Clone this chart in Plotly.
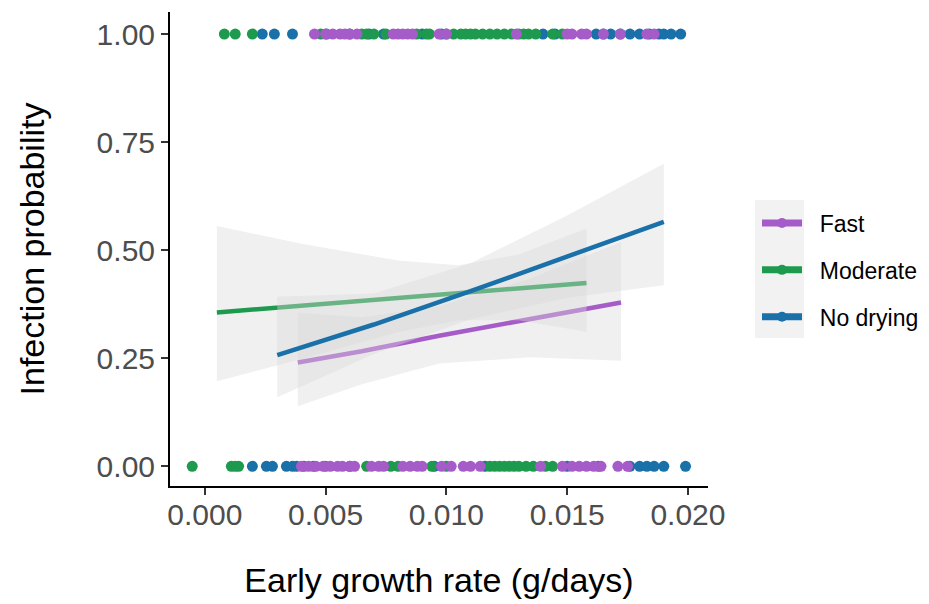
import plotly.graph_objects as go

groups = ["Fast", "Moderate", "No drying"]
colors = {"Fast": "#A65CC8", "Moderate": "#1E9A4E", "No drying": "#1A70A8"}

# observed points: infected (1) and not infected (0), x = early growth rate
pts1 = {
    "Fast": [0.00454, 0.0050, 0.0053, 0.0056, 0.0058, 0.0060, 0.0063, 0.0078, 0.0080,
             0.0082, 0.0084, 0.0086, 0.0097, 0.0100, 0.0129, 0.0150, 0.0152, 0.0156,
             0.0158, 0.0165, 0.0172, 0.0183, 0.0186],
    "Moderate": [0.00081, 0.00126, 0.00197, 0.0048, 0.0065, 0.0067, 0.0070, 0.0075,
                 0.00877, 0.00918, 0.0093, 0.0100, 0.0103, 0.0106, 0.0108, 0.0110, 0.0112,
                 0.0115, 0.0118, 0.0121, 0.0124, 0.0127, 0.0130, 0.0132, 0.0134, 0.0137,
                 0.0144, 0.0148],
    "No drying": [0.00238, 0.00288, 0.00363, 0.00504, 0.0060, 0.0068, 0.0074, 0.0090,
                  0.0098, 0.0140, 0.0145, 0.0162, 0.0165, 0.0168, 0.0172, 0.0176, 0.0180,
                  0.0184, 0.0188, 0.0190, 0.0193, 0.0197],
}
pts0 = {
    "Fast": [0.0040, 0.0043, 0.0046, 0.0049, 0.0052, 0.0055, 0.0057, 0.0060, 0.0062,
             0.0069, 0.0072, 0.0074, 0.0082, 0.0085, 0.0088, 0.0090, 0.0098, 0.0102,
             0.0107, 0.0110, 0.0114, 0.0139, 0.0148, 0.0152, 0.0155, 0.0158, 0.0161,
             0.0164, 0.0171, 0.0175],
    "Moderate": [-0.00052, 0.00110, 0.00126, 0.00140, 0.0050, 0.0067, 0.0077, 0.0080,
                 0.0094, 0.0100, 0.0118, 0.0120, 0.0122, 0.0124, 0.0126, 0.0128, 0.0130,
                 0.0133, 0.0136, 0.0141, 0.0144],
    "No drying": [0.00197, 0.00255, 0.00280, 0.00338, 0.00363, 0.00380, 0.0041, 0.0045,
                  0.0060, 0.0095, 0.0116, 0.0150, 0.0163, 0.0176, 0.0180, 0.0183, 0.0186,
                  0.0190, 0.0199],
}

# fitted curves with confidence bands
fit_x = {
    "Fast": [0.00385, 0.0065, 0.0097, 0.0135, 0.01723],
    "Moderate": [0.0005, 0.004, 0.008, 0.0105, 0.013, 0.0158],
    "No drying": [0.003, 0.007, 0.011, 0.015, 0.019],
}
fit_y = {
    "Fast": [0.240, 0.266, 0.302, 0.340, 0.379],
    "Moderate": [0.356, 0.371, 0.389, 0.400, 0.411, 0.424],
    "No drying": [0.257, 0.328, 0.405, 0.485, 0.5655],
}
fit_lo = {
    "Fast": [0.139, 0.190, 0.238, 0.252, 0.244],
    "Moderate": [0.197, 0.248, 0.310, 0.338, 0.338, 0.311],
    "No drying": [0.160, 0.260, 0.340, 0.390, 0.419],
}
fit_hi = {
    "Fast": [0.355, 0.345, 0.370, 0.435, 0.519],
    "Moderate": [0.556, 0.515, 0.476, 0.465, 0.490, 0.550],
    "No drying": [0.392, 0.400, 0.470, 0.580, 0.700],
}

x_ticks = [0.000, 0.005, 0.010, 0.015, 0.020]
x_labels = ["0.000", "0.005", "0.010", "0.015", "0.020"]
y_ticks = [0.00, 0.25, 0.50, 0.75, 1.00]
y_labels = ["0.00", "0.25", "0.50", "0.75", "1.00"]

fig = go.Figure()

# points
for g in ["No drying", "Moderate", "Fast"]:
    xs = pts1[g] + pts0[g]
    ys = [1] * len(pts1[g]) + [0] * len(pts0[g])
    fig.add_trace(go.Scatter(x=xs, y=ys, mode="markers",
                             marker=dict(color=colors[g], size=11, line=dict(width=0)),
                             showlegend=False, hoverinfo="skip", cliponaxis=False))

# smooth ribbons + lines
for g in groups:
    bx = fit_x[g] + fit_x[g][::-1]
    by = fit_hi[g] + fit_lo[g][::-1]
    fig.add_trace(go.Scatter(x=bx, y=by, mode="lines", fill="toself",
                             fillcolor="rgba(217,217,217,0.4)", line=dict(width=0),
                             showlegend=False, hoverinfo="skip"))
    fig.add_trace(go.Scatter(x=fit_x[g], y=fit_y[g], mode="lines",
                             line=dict(color=colors[g], width=4.5),
                             showlegend=False, hoverinfo="skip"))

# legend entries
for g in groups:
    fig.add_trace(go.Scatter(x=[None], y=[None], mode="lines+markers",
                             name="\u00a0\u00a0" + g,
                             legendgroup=g,
                             line=dict(color=colors[g], width=7),
                             marker=dict(color=colors[g], size=10)))

fig.add_shape(type="rect", xref="paper", yref="paper",
              x0=1.0874, x1=1.1784, y0=0.3122, y1=0.6034,
              fillcolor="#F2F2F2", line=dict(width=0), layer="below")

font_fam = "Liberation Sans, Arial, sans-serif"
fig.update_layout(
    width=929, height=604,
    margin=dict(l=170, r=221, t=12, b=118, autoexpand=False),
    paper_bgcolor="white", plot_bgcolor="white",
    font=dict(family=font_fam, color="#000000"),
    legend=dict(xref="container", yref="container",
                x=757 / 929, xanchor="left", y=1 - 270 / 604, yanchor="middle",
                bgcolor="rgba(0,0,0,0)", font=dict(size=23, color="#000000"),
                tracegroupgap=14, traceorder="grouped", itemwidth=40),
    xaxis=dict(range=[-0.00144, 0.02083], tickvals=x_ticks, ticktext=x_labels,
               showgrid=False, zeroline=False, showline=True, linecolor="#000000",
               linewidth=2, ticks="outside", ticklen=7, tickwidth=2, tickcolor="#333333",
               ticklabelstandoff=-6,
               tickfont=dict(size=30, color="#4D4D4D", family=font_fam),
               title=dict(text="Early growth rate (g/days)", font=dict(size=34, color="#000000"),
                          standoff=38)),
    yaxis=dict(range=[-0.0456, 1.051], tickvals=y_ticks, ticktext=y_labels,
               showgrid=False, zeroline=False, showline=True, linecolor="#000000",
               linewidth=2, ticks="outside", ticklen=7, tickwidth=2, tickcolor="#333333",
               tickfont=dict(size=30, color="#4D4D4D", family=font_fam),
               title=dict(text="Infection probability", font=dict(size=34, color="#000000"),
                          standoff=42)),
)

fig.write_html("out.html")
